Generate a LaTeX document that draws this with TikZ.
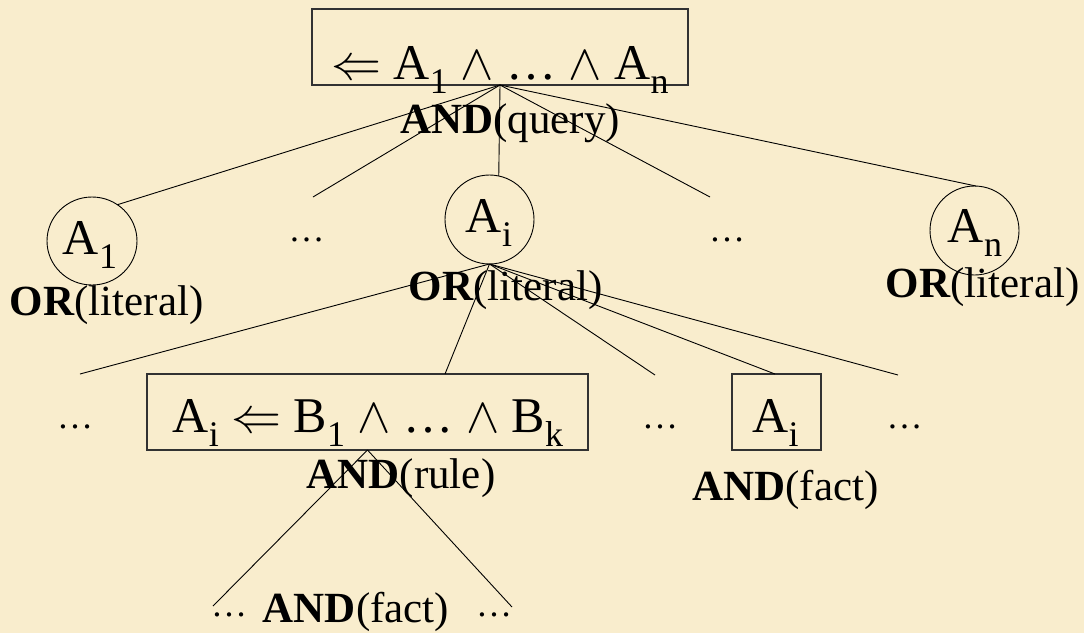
\RequirePackage{fix-cm}
\documentclass[tikz,border=0pt]{standalone}
\usepackage{fontspec}
\setmainfont{Liberation Serif}
\usetikzlibrary{shapes.geometric}
\definecolor{parch}{RGB}{249,237,205}
\definecolor{boxline}{RGB}{50,50,50}
\newcommand{\mainsz}{\fontsize{50}{54}\selectfont}
\newcommand{\labsz}{\fontsize{43}{47}\selectfont}
\newcommand{\dotsz}{\fontsize{36}{40}\selectfont}
\newcommand{\sbs}[1]{\raisebox{-14pt}{\fontsize{36}{36}\selectfont #1}}
\newcommand{\lbl}[2]{\textbf{#1}(#2)}
\begin{document}
\begin{tikzpicture}[x=1pt,y=-1pt,
  every node/.style={inner sep=0pt, outer sep=0pt},
  maintxt/.style={anchor=base, font=\mainsz},
  labtxt/.style={anchor=base, font=\labsz},
  dotstxt/.style={anchor=base, font=\dotsz},
  boxnode/.style={draw=boxline, line width=1.3pt, rectangle},
  circnode/.style={draw=black, line width=0.9pt, ellipse},
  conn/.style={draw=black, line width=0.9pt}]
\fill[parch] (0,0) rectangle (1084,633);
\useasboundingbox (0,0) rectangle (1084,633);

% level 0
\node[boxnode, minimum width=376pt, minimum height=76pt] (q) at (500,47) {};
\node[maintxt] (qt) at (500,79) {$\Leftarrow$ A\sbs{1} $\wedge$ … $\wedge$ A\sbs{n}};
\node[labtxt] (ql) at (510,133) {\lbl{AND}{query}};

% level 1
\node[circnode, minimum width=90pt, minimum height=88pt] (a1) at (92,241) {};
\node[maintxt] (a1t) at (90,254) {A\sbs{1}};
\node[labtxt] (a1l) at (106.5,315) {\lbl{OR}{literal}};
\node[dotstxt] (d1) at (306.5,241) {…};
\node[circnode, minimum width=89pt, minimum height=89pt] (ai) at (489.5,219.5) {};
\node[maintxt] (ait) at (489,232) {A\sbs{i}};
\node[labtxt] (ail) at (505.5,300) {\lbl{OR}{literal}};
\node[dotstxt] (d2) at (727,241) {…};
\node[circnode, minimum width=89pt, minimum height=89pt] (an) at (974.5,230.5) {};
\node[maintxt] (ant) at (975,242) {A\sbs{n}};
\node[labtxt] (anl) at (982.5,297) {\lbl{OR}{literal}};

% level 2
\node[dotstxt] (d3) at (75,428) {…};
\node[boxnode, minimum width=441pt, minimum height=76pt] (r) at (367.5,412) {};
\node[maintxt] (rt) at (368,432) {A\sbs{i} $\Leftarrow$ B\sbs{1} $\wedge$ … $\wedge$ B\sbs{k}};
\node[labtxt] (rl) at (401,488) {\lbl{AND}{rule}};
\node[dotstxt] (d4) at (660,428) {…};
\node[boxnode, minimum width=89pt, minimum height=76pt] (f) at (776.5,412) {};
\node[maintxt] (ft) at (775.5,432) {A\sbs{i}};
\node[labtxt] (fl) at (785.5,500) {\lbl{AND}{fact}};
\node[dotstxt] (d5) at (904.5,428) {…};

% level 3
\node[dotstxt] (d6) at (229,616) {…};
\node[labtxt] (bl) at (356,622) {\lbl{AND}{fact}};
\node[dotstxt] (d7) at (494,616) {…};

% free ends
\coordinate (e1) at (313,197);
\coordinate (e2) at (710,197);
\coordinate (e3) at (80,374);
\coordinate (e4) at (655,375);
\coordinate (e5) at (898,375);
\coordinate (e6) at (213,606);
\coordinate (e7) at (512,607);

% connectors
\draw[conn] (q.south) -- (a1.55);
\draw[conn] (q.south) -- (e1);
\draw[conn] (q.south) -- (ai.78);
\draw[conn] (q.south) -- (e2);
\draw[conn] (q.south) -- (an.88);
\draw[conn] (ai.south) -- (e3);
\draw[conn] (ai.south) -- ([xshift=77.5pt]r.north);
\draw[conn] (ai.south) -- (e4);
\draw[conn] (ai.south) -- ([xshift=-1.5pt]f.north);
\draw[conn] (ai.south) -- (e5);
\draw[conn] (r.south) -- (e6);
\draw[conn] (r.south) -- (e7);
\end{tikzpicture}
\end{document}
